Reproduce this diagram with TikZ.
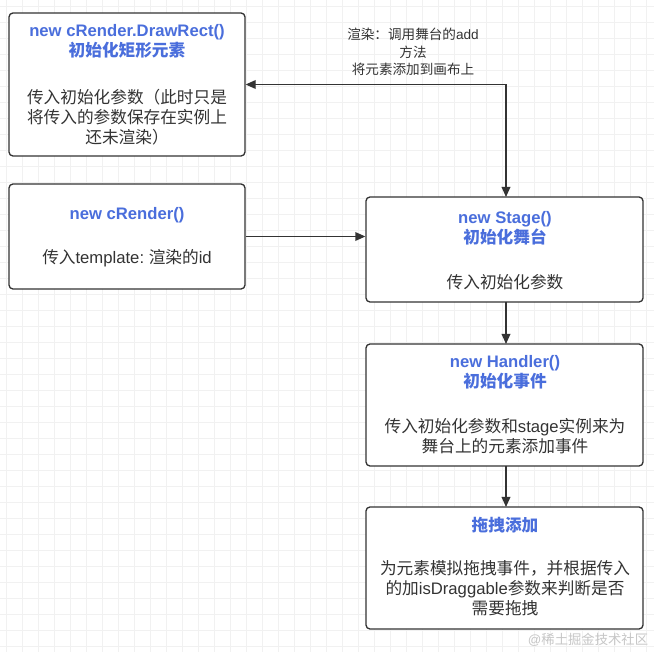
\documentclass[tikz,border=0pt]{standalone}
\usepackage{fontspec}
\setmainfont{Liberation Sans}
\newfontfamily\cjkf{Noto Sans CJK SC}
\newfontfamily\latf{Liberation Sans}
\frenchspacing
\XeTeXinterchartokenstate=1
\newXeTeXintercharclass\cjkclass
\makeatletter
\count@="3000 \loop\XeTeXcharclass\count@=\cjkclass\advance\count@ 1 \ifnum\count@<"3040 \repeat
\count@="4E00 \loop\XeTeXcharclass\count@=\cjkclass\advance\count@ 1 \ifnum\count@<"A000 \repeat
\count@="FF00 \loop\XeTeXcharclass\count@=\cjkclass\advance\count@ 1 \ifnum\count@<"FFF0 \repeat
\makeatother
\XeTeXinterchartoks 0 \cjkclass = {\cjkf}
\XeTeXinterchartoks 4095 \cjkclass = {\cjkf}
\XeTeXinterchartoks \cjkclass 0 = {\latf}
\XeTeXinterchartoks \cjkclass 4095 = {\latf}
\usetikzlibrary{arrows.meta}
\definecolor{linec}{HTML}{333333}
\definecolor{titleblue}{HTML}{4A6EDC}
\definecolor{bodyc}{HTML}{333333}
\definecolor{gridc}{HTML}{F1F1F1}
\begin{document}
\begin{tikzpicture}[x=0.75pt,y=-0.75pt,
  box/.style={draw=linec, line width=1pt, rounded corners=3pt, fill=white, inner sep=0pt},
  ttl/.style={text=titleblue, font=\fontsize{12.5}{15}\selectfont\bfseries, align=center, inner sep=0pt},
  bdy/.style={text=bodyc, font=\fontsize{12.5}{15}\selectfont, align=center, inner sep=0pt},
  lbl/.style={text=bodyc, font=\fontsize{10.2}{13}\selectfont, align=center, inner sep=0pt},
  gridline/.style={draw=gridc, line width=0.7pt},
  arr/.style={draw=linec, line width=1pt, -{Triangle[length=7.5pt,width=6.5pt]}},
  darr/.style={draw=linec, line width=1pt, {Triangle[length=7.5pt,width=6.5pt]}-{Triangle[length=7.5pt,width=6.5pt]}}]
\useasboundingbox (0,0) rectangle (654,652);
\fill[white] (0,0) rectangle (654,652);
\foreach \gx in {6,22,...,654} {\draw[gridline] (\gx,0) -- (\gx,652);}
\foreach \gy in {6,22,...,652} {\draw[gridline] (0,\gy) -- (654,\gy);}

% boxes
\node[box, minimum width=177pt, minimum height=107.25pt] (dr) at (127,84.5) {};
\node[box, minimum width=177pt, minimum height=78.75pt] (cr) at (127,236.5) {};
\node[box, minimum width=207.75pt, minimum height=78.75pt] (st) at (504.5,249.5) {};
\node[box, minimum width=207.75pt, minimum height=91.5pt] (hd) at (504.5,405) {};
\node[box, minimum width=207.75pt, minimum height=91.5pt] (dg) at (504.5,568) {};

% texts
\node[ttl] (drt) at (127,41) {new cRender.DrawRect()\\初始化矩形元素};
\node[bdy] (drb) at (127,117) {传入初始化参数（此时只是\\将传入的参数保存在实例上\\还未渲染）};
\node[ttl] (crt) at (127,215) {new cRender()};
\node[bdy] (crb) at (127,258) {传入template: 渲染的id};
\node[ttl] (stt) at (505,228) {new Stage()\\初始化舞台};
\node[bdy] (stb) at (505,282) {传入初始化参数};
\node[ttl] (hdt) at (505,372) {new Handler()\\初始化事件};
\node[bdy] (hdb) at (505,436) {传入初始化参数和stage实例来为\\舞台上的元素添加事件};
\node[ttl] (dgt) at (505,525) {拖拽添加};
\node[bdy] (dgb) at (505,588) {为元素模拟拖拽事件，并根据传入\\的加isDraggable参数来判断是否\\需要拖拽};

% connectors
\coordinate (stin) at (506,197);
\draw[darr] (dr.east) -| (stin);
\node[lbl] (lab) at (413,52) {渲染：调用舞台的add\\方法\\将元素添加到画布上};
\draw[arr] (cr.east) -- (cr.east -| st.west);
\draw[arr] (506,302) coordinate (sb) -- (506,344) coordinate (ht);
\draw[arr] (506,466) coordinate (hb) -- (506,507) coordinate (dtp);

% watermark
\node[text=gray!45, font=\fontsize{10}{12}\selectfont, inner sep=0pt] (wm) at (588,640) {@稀土掘金技术社区};
\end{tikzpicture}
\end{document}
